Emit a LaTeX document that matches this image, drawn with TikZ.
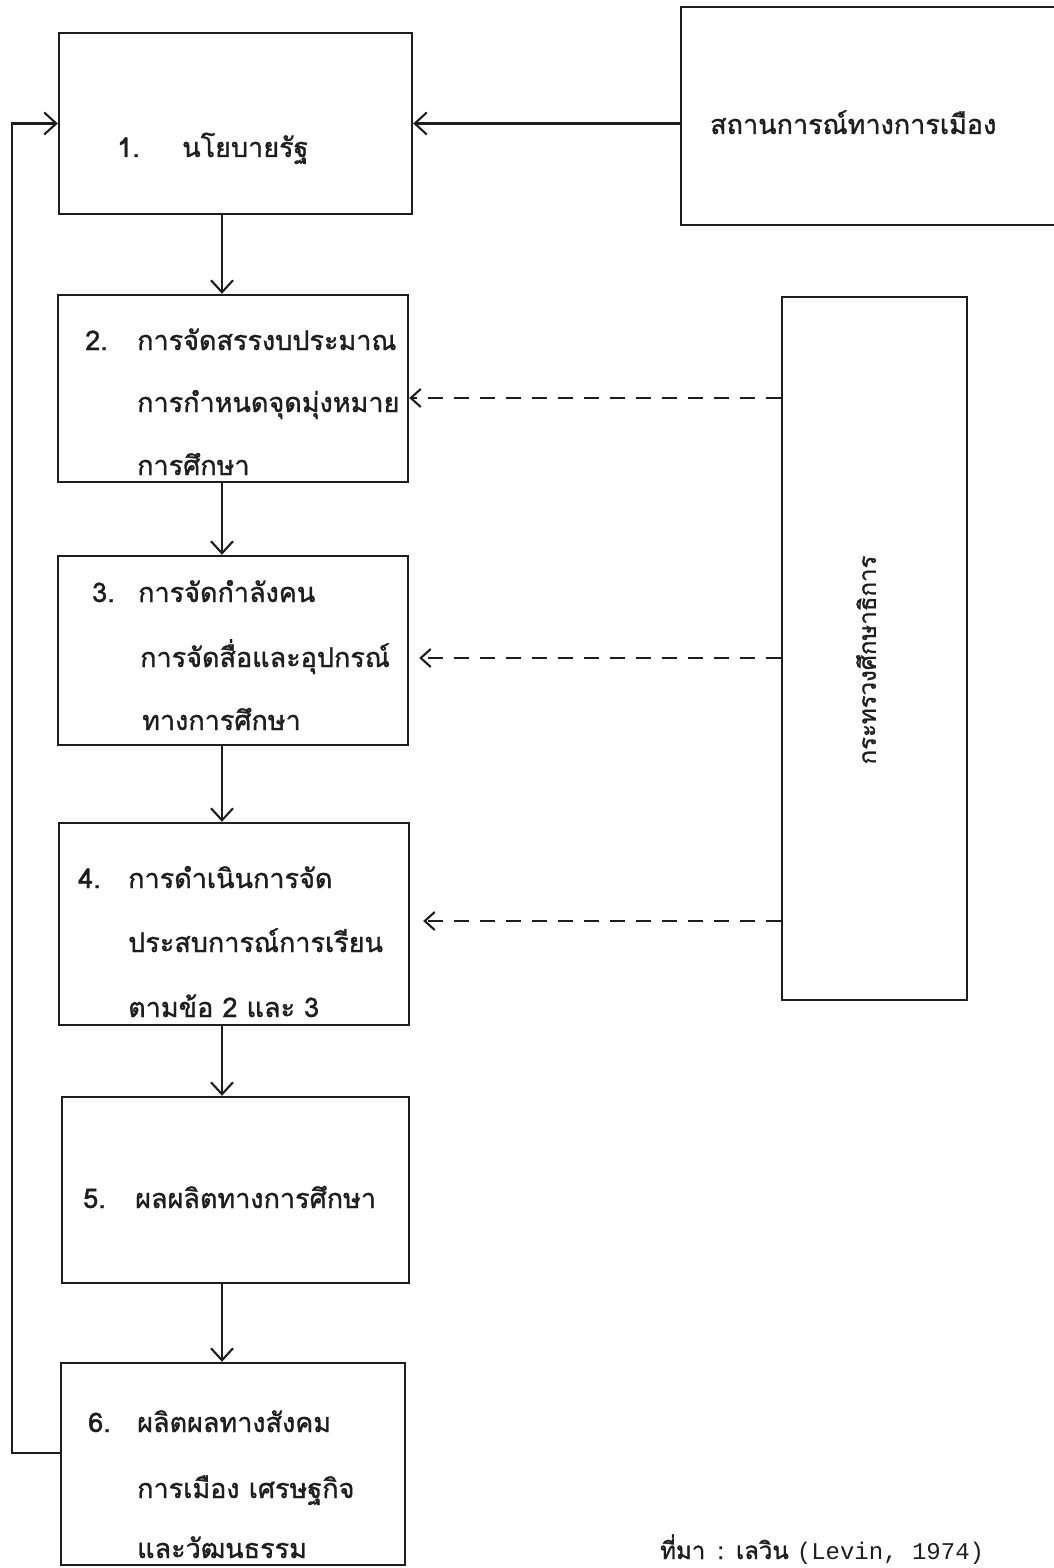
\documentclass[tikz,border=0pt]{standalone}
\usepackage{fontspec}
\newfontfamily\thai[Script=Thai, FakeBold=1.2]{Loma}
\setmonofont{Liberation Mono}
\usetikzlibrary{arrows.meta}
\definecolor{ink}{HTML}{1E1E1E}
\tikzset{
  box/.style={draw=ink, line width=2.4pt, inner sep=0pt},
  arr/.style={draw=ink, line width=2.1pt, -{Straight Barb[length=12pt,width=22pt,line width=2.1pt]}},
  darr/.style={draw=ink, line width=2.1pt, dash pattern=on 15pt off 11pt, -{Straight Barb[length=10pt,width=18pt,line width=2.1pt]}},
  lbl/.style={anchor=base west, inner sep=0pt, text=ink, font=\thai\fontsize{27}{27}\selectfont},
}
\begin{document}
\begin{tikzpicture}[x=1pt,y=-1pt]
\useasboundingbox (0,0) rectangle (1054,1568);
\fill[white] (0,0) rectangle (1054,1568);
\clip (0,0) rectangle (1054,1568);
% boxes
\node[box, minimum width=353pt, minimum height=181pt] (b1) at (235.5,123.5) {};
\node[box, minimum width=399pt, minimum height=218pt] (rb) at (880.5,116) {};
\node[box, minimum width=350pt, minimum height=187pt] (b2) at (233,388.5) {};
\node[box, minimum width=350pt, minimum height=189pt] (b3) at (233,650.5) {};
\node[box, minimum width=350pt, minimum height=202pt] (b4) at (234,924) {};
\node[box, minimum width=347pt, minimum height=186pt] (b5) at (235.5,1190) {};
\node[box, minimum width=344pt, minimum height=202pt] (b6) at (233,1464) {};
\node[box, minimum width=185pt, minimum height=703pt] (tb) at (874.5,648.5) {};
% labels
\node[lbl] (t1n) at (117,157) {1.};
\node[lbl] (t1) at (182,157) {นโยบายรัฐ};
\node[lbl] (trb) at (710,134) {สถานการณ์ทางการเมือง};
\node[lbl] (t2n) at (85,350) {2.};
\node[lbl] (t2a) at (137,350) {การจัดสรรงบประมาณ};
\node[lbl] (t2b) at (137,412) {การกำหนดจุดมุ่งหมาย};
\node[lbl] (t2c) at (137,475) {การศึกษา};
\node[lbl] (t3n) at (92,602) {3.};
\node[lbl] (t3a) at (138,602) {การจัดกำลังคน};
\node[lbl] (t3b) at (140,667) {การจัดสื่อและอุปกรณ์};
\node[lbl] (t3c) at (142,730) {ทางการศึกษา};
\node[lbl] (t4n) at (78,888) {4.};
\node[lbl] (t4a) at (128,888) {การดำเนินการจัด};
\node[lbl] (t4b) at (128,952) {ประสบการณ์การเรียน};
\node[lbl] (t4c) at (128,1017) {ตามข้อ 2 และ 3};
\node[lbl] (t5n) at (83,1208) {5.};
\node[lbl] (t5a) at (135,1208) {ผลผลิตทางการศึกษา};
\node[lbl] (t6n) at (88,1432) {6.};
\node[lbl] (t6a) at (137,1432) {ผลิตผลทางสังคม};
\node[lbl] (t6b) at (137,1498) {การเมือง เศรษฐกิจ};
\node[lbl] (t6c) at (137,1558) {และวัฒนธรรม};
\node[inner sep=0pt, text=ink, rotate=90, font=\thai\fontsize{24}{24}\selectfont] (tt) at (866,660) {กระทรวงศึกษาธิการ};
\node[anchor=base west, inner sep=0pt, text=ink] (cap) at (660,1559)
  {\thai\fontsize{24}{24}\selectfont ที่มา\enspace:\enspace เลวิน \ttfamily\fontsize{24}{24}\selectfont(Levin, 1974)};
% connectors
\coordinate (ax) at (222,0);
\draw[arr] (ax |- b1.south) -- (ax |- b2.north);
\draw[arr] (ax |- b2.south) -- (ax |- b3.north);
\draw[arr] (ax |- b3.south) -- (ax |- b4.north);
\draw[arr] (ax |- b4.south) -- (ax |- b5.north);
\draw[arr] (ax |- b5.south) -- (ax |- b6.north);
\draw[arr] (rb.west |- b1.east) -- (b1.east);
\coordinate (fb) at (12,123.5);
\draw[arr] ([yshift=11pt]b6.west) -| (fb) -- (b1.west);
\coordinate (d2) at (0,398);
\coordinate (d3) at (0,658);
\coordinate (d4) at (0,921);
\draw[darr] (tb.west |- d2) -- (b2.east |- d2);
\draw[darr, shorten >=10pt] (tb.west |- d3) -- (b3.east |- d3);
\draw[darr, shorten >=13pt] (tb.west |- d4) -- (b4.east |- d4);
\end{tikzpicture}
\end{document}
